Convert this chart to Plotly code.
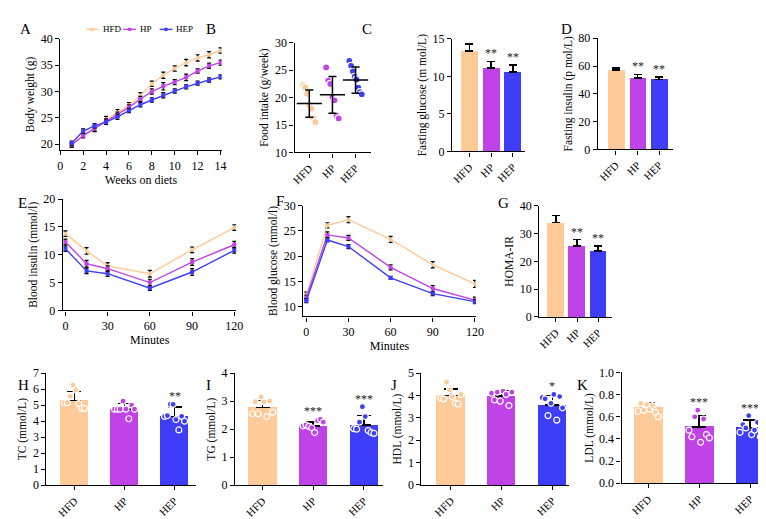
import plotly.graph_objects as go
import numpy as np

W, H = 766, 519
FONT = "Liberation Serif, Times New Roman, DejaVu Serif, serif"
GROUPS = ["HFD", "HP", "HEP"]
COLORS = {"HFD": "#FDCA98", "HP": "#C043E8", "HEP": "#3E3EF8"}

# ---------------- data ----------------
weeks = list(range(1, 15))
bw_hfd = [19.8, 21.8, 23.0, 24.7, 26.0, 27.4, 29.2, 31.5, 33.1, 34.4, 35.5, 36.4, 37.0, 37.8]
bw_hp = [19.9, 21.6, 23.0, 24.3, 25.6, 27.0, 28.6, 30.0, 31.0, 31.8, 32.7, 33.9, 34.9, 35.5]
bw_hep = [20.2, 22.5, 23.5, 24.2, 25.2, 26.4, 27.5, 28.4, 29.3, 30.1, 30.9, 31.6, 32.2, 32.8]
bw_hfd_err = [0.4, 0.5, 0.5, 0.6, 0.6, 0.5, 0.6, 0.5, 0.6, 0.5, 0.6, 0.6, 0.6, 0.5]
bw_hp_err = [0.4, 0.4, 0.6, 0.5, 0.5, 0.5, 0.5, 0.5, 0.7, 0.5, 0.6, 0.4, 0.5, 0.5]
bw_hep_err = [0.4, 0.4, 0.4, 0.4, 0.5, 0.4, 0.4, 0.4, 0.5, 0.4, 0.4, 0.4, 0.4, 0.4]

food_pts = {
    "HFD": [22.3, 21.9, 20.7, 18.6, 18.0, 16.2, 15.5],
    "HP": [25.5, 23.1, 22.5, 20.0, 19.5, 16.7, 16.2],
    "HEP": [26.7, 25.8, 24.8, 23.8, 23.3, 21.8, 21.0, 20.6],
}
food_mean = [18.9, 20.5, 23.2]
food_sd = [2.5, 3.35, 2.4]

glu_mean = [13.4, 11.1, 10.6]
glu_sd = [0.9, 0.9, 0.9]
ins_mean = [57.0, 51.5, 50.3]
ins_sd = [1.5, 2.5, 1.8]
homa_mean = [34.0, 25.5, 23.7]
homa_sd = [2.5, 2.3, 1.8]

minutes = [0, 15, 30, 60, 90, 120]
itt_hfd = [13.8, 10.7, 8.0, 6.6, 10.9, 14.9]
itt_hp = [12.3, 8.4, 7.5, 5.0, 8.7, 11.8]
itt_hep = [11.1, 7.1, 6.6, 4.0, 6.9, 10.8]
itt_hfd_err = [0.5, 0.6, 0.6, 0.6, 0.5, 0.5]
itt_hp_err = [0.5, 0.6, 0.5, 0.6, 0.6, 0.6]
itt_hep_err = [0.5, 0.5, 0.5, 0.4, 0.6, 0.5]

gtt_hfd = [12.3, 26.1, 27.2, 23.3, 18.3, 14.5]
gtt_hp = [11.8, 24.2, 23.6, 17.8, 13.6, 11.3]
gtt_hep = [11.2, 23.2, 21.9, 15.7, 12.6, 11.0]
gtt_hfd_err = [0.6, 0.5, 0.6, 0.6, 0.6, 0.7]
gtt_hp_err = [0.5, 0.6, 0.5, 0.5, 0.6, 0.6]
gtt_hep_err = [0.4, 0.4, 0.4, 0.3, 0.4, 0.4]

tc_pts = {"HFD": [5.15, 5.15, 5.55, 6.25, 5.95, 5.1, 4.8, 4.8],
          "HP": [4.75, 4.75, 4.75, 5.25, 4.75, 4.15, 5.0, 4.75],
          "HEP": [4.3, 4.35, 5.05, 5.05, 4.1, 3.45, 4.3, 4.0]}
tc_mean = [5.3, 4.75, 4.3]
tc_sd = [0.55, 0.35, 0.6]

tg_pts = {"HFD": [2.55, 2.98, 2.55, 3.15, 2.97, 2.45, 3.0, 2.6],
          "HP": [2.12, 2.15, 2.1, 2.05, 1.88, 2.3, 2.35, 2.25],
          "HEP": [2.02, 2.0, 2.25, 2.8, 2.45, 1.95, 1.88, 1.85]}
tg_mean = [2.78, 2.12, 2.15]
tg_sd = [0.24, 0.14, 0.33]

hdl_pts = {"HFD": [3.9, 3.85, 4.6, 4.25, 3.95, 3.65, 3.62, 4.05],
           "HP": [4.1, 3.8, 4.15, 3.75, 4.2, 4.05, 3.55, 4.15],
           "HEP": [3.9, 3.85, 3.1, 3.65, 4.05, 2.9, 3.95, 3.45]}
hdl_mean = [4.0, 3.97, 3.58]
hdl_sd = [0.3, 0.25, 0.42]

ldl_pts = {"HFD": [0.65, 0.72, 0.66, 0.71, 0.67, 0.70, 0.64, 0.60],
           "HP": [0.48, 0.42, 0.60, 0.66, 0.37, 0.58, 0.44, 0.41],
           "HEP": [0.46, 0.53, 0.50, 0.61, 0.44, 0.48, 0.55, 0.42]}
ldl_mean = [0.68, 0.51, 0.50]
ldl_sd = [0.05, 0.10, 0.07]

stars_c = ["", "**", "**"]
stars_d = ["", "**", "**"]
stars_g = ["", "**", "**"]
stars_h = ["", "", "**"]
stars_i = ["", "***", "***"]
stars_j = ["", "", "*"]
stars_k = ["", "***", "***"]

# ---------------- helpers ----------------
def xd(l, r):
    return [l / W, r / W]


def yd(top, bottom):
    return [1 - bottom / H, 1 - top / H]


fig = go.Figure()
layout = {}
annotations = []
shapes = []


def axis_style(**kw):
    d = dict(showline=True, linecolor="black", linewidth=1.3, ticks="outside",
             ticklen=4, tickwidth=1.3, tickcolor="black", showgrid=False,
             zeroline=False, tickfont=dict(family=FONT, size=12, color="black"))
    d.update(kw)
    return d


def add_axes(n, xdom, ydom, xrange, yrange, xkw=None, ykw=None, ytitle="", xtitle=""):
    xk = "xaxis" if n == 1 else f"xaxis{n}"
    yk = "yaxis" if n == 1 else f"yaxis{n}"
    xa = axis_style(domain=xdom, range=xrange, anchor=f"y{'' if n == 1 else n}")
    ya = axis_style(domain=ydom, range=yrange, anchor=f"x{'' if n == 1 else n}")
    xa["title"] = dict(text=xtitle, font=dict(family=FONT, size=12, color="black"), standoff=0)
    ya["title"] = dict(text=ytitle, font=dict(family=FONT, size=11.5, color="black"), standoff=3)
    if xkw:
        xa.update(xkw)
    if ykw:
        ya.update(ykw)
    layout[xk] = xa
    layout[yk] = ya
    return ("x" if n == 1 else f"x{n}"), ("y" if n == 1 else f"y{n}")


cat_x = dict(tickvals=[0, 1, 2], ticktext=GROUPS, tickangle=-45,
             tickfont=dict(family=FONT, size=11, color="black"))


def line_traces(xa, ya, xs, series, errs, msize=4):
    for g, vals, e in zip(GROUPS, series, errs):
        fig.add_trace(go.Scatter(
            x=xs, y=vals, mode="lines+markers", name=g, showlegend=False,
            line=dict(color=COLORS[g], width=1.4),
            marker=dict(color=COLORS[g], size=msize, symbol="circle" if g == "HFD" else "square"),
            error_y=dict(type="data", array=e, color="black", thickness=1.2, width=2),
            xaxis=xa, yaxis=ya))


def bar_trace(xa, ya, means, sds, width, capw):
    fig.add_trace(go.Bar(
        x=[0, 1, 2], y=means, width=width, showlegend=False,
        marker=dict(color=[COLORS[g] for g in GROUPS], line=dict(width=0)),
        error_y=dict(type="data", symmetric=False, array=sds, arrayminus=[0, 0, 0],
                     color="black", thickness=1.5, width=capw),
        xaxis=xa, yaxis=ya))


def dots_trace(xa, ya, pts, spread, size):
    for i, g in enumerate(GROUPS):
        v = pts[g]
        n = len(v)
        xs = list(i + np.linspace(-spread, spread, n))
        fig.add_trace(go.Scatter(
            x=xs, y=v, mode="markers", showlegend=False,
            marker=dict(color=COLORS[g], size=size, line=dict(color="white", width=1.2)),
            xaxis=xa, yaxis=ya))


def star_ann(xa, ya, stars, tops, size=12):
    for i, s in enumerate(stars):
        if s:
            annotations.append(dict(x=i, y=tops[i], xref=xa, yref=ya, text=s, showarrow=False,
                                    yanchor="bottom", yshift=-1,
                                    font=dict(family=FONT, size=size, color="#222222")))


def letter(txt, px, py):
    annotations.append(dict(x=px / W, y=1 - py / H, xref="paper", yref="paper", text=txt,
                            showarrow=False, xanchor="left", yanchor="top",
                            font=dict(family=FONT, size=15, color="black")))


# ---------------- Panel A ----------------
xa, ya = add_axes(1, xd(49, 213), yd(25, 141), [0, 14.1], [18.9, 40],
                  xkw=dict(tickvals=list(range(0, 15, 2))),
                  ykw=dict(tickvals=[20, 25, 30, 35, 40]),
                  ytitle="Body weight (g)", xtitle="Weeks on diets")
line_traces(xa, ya, weeks, [bw_hfd, bw_hp, bw_hep], [bw_hfd_err, bw_hp_err, bw_hep_err])

# legend of panel A (drawn as small shapes + text)
leg_x = [75, 113, 150]
for g, lx in zip(GROUPS, leg_x):
    shapes.append(dict(type="line", xref="paper", yref="paper",
                       x0=lx / W, x1=(lx + 13) / W, y0=1 - 15 / H, y1=1 - 15 / H,
                       line=dict(color=COLORS[g], width=1.4)))
    shapes.append(dict(type="circle", xref="paper", yref="paper",
                       x0=(lx + 4.5) / W, x1=(lx + 8.5) / W, y0=1 - 17 / H, y1=1 - 13 / H,
                       fillcolor=COLORS[g], line=dict(color=COLORS[g], width=0)))
    annotations.append(dict(x=(lx + 15) / W, y=1 - 15 / H, xref="paper", yref="paper",
                            text=g, showarrow=False, xanchor="left", yanchor="middle",
                            font=dict(family=FONT, size=9, color="black")))

# ---------------- Panel B ----------------
xa, ya = add_axes(2, xd(287, 365), yd(29, 143.5), [-0.64, 2.68], [10, 30],
                  xkw=cat_x, ykw=dict(tickvals=[10, 15, 20, 25, 30]),
                  ytitle="Food intake (g/week)")
dots_trace(xa, ya, food_pts, 0.27, 7)
fig.add_trace(go.Scatter(
    x=[0, 1, 2], y=food_mean, mode="markers", showlegend=False,
    marker=dict(symbol="line-ew", size=18, color="black", line=dict(width=1.5, color="black")),
    error_y=dict(type="data", array=food_sd, color="black", thickness=1.5, width=4),
    xaxis=xa, yaxis=ya))

# ---------------- Panel C ----------------
xa, ya = add_axes(3, xd(447, 521), yd(25, 142.5), [-0.8, 2.55], [0, 15],
                  xkw=cat_x, ykw=dict(tickvals=[0, 5, 10, 15]),
                  ytitle="Fasting glucose (m mol/L)")
bar_trace(xa, ya, glu_mean, glu_sd, 0.78, 4)
star_ann(xa, ya, stars_c, [m + s for m, s in zip(glu_mean, glu_sd)])

# ---------------- Panel D ----------------
xa, ya = add_axes(4, xd(595, 672), yd(24.3, 140.3), [-0.84, 2.66], [0, 80],
                  xkw=cat_x, ykw=dict(tickvals=[0, 20, 40, 60, 80]),
                  ytitle="Fasting insulin (p mol/L)")
bar_trace(xa, ya, ins_mean, ins_sd, 0.77, 4)
star_ann(xa, ya, stars_d, [m + s for m, s in zip(ins_mean, ins_sd)])

# ---------------- Panel E ----------------
xa, ya = add_axes(5, xd(51.7, 228), yd(192.3, 308.5), [-1.8, 121.5], [0, 20],
                  xkw=dict(tickvals=[0, 30, 60, 90, 120]),
                  ykw=dict(tickvals=[0, 5, 10, 15, 20]),
                  ytitle="Blood insulin (mmol/l)", xtitle="Minutes")
line_traces(xa, ya, minutes, [itt_hfd, itt_hp, itt_hep], [itt_hfd_err, itt_hp_err, itt_hep_err])

# ---------------- Panel F ----------------
xa, ya = add_axes(6, xd(296, 471), yd(199, 314.7), [-2.1, 120.5], [8.1, 30],
                  xkw=dict(tickvals=[0, 30, 60, 90, 120]),
                  ykw=dict(tickvals=[10, 15, 20, 25, 30]),
                  ytitle="Blood glucose (mmol/l)", xtitle="Minutes")
line_traces(xa, ya, minutes, [gtt_hfd, gtt_hp, gtt_hep], [gtt_hfd_err, gtt_hp_err, gtt_hep_err])

# ---------------- Panel G ----------------
xa, ya = add_axes(7, xd(535.7, 610), yd(199.3, 315.3), [-0.78, 2.67], [0, 40],
                  xkw=cat_x, ykw=dict(tickvals=[0, 10, 20, 30, 40]),
                  ytitle="HOMA-IR")
bar_trace(xa, ya, homa_mean, homa_sd, 0.78, 4)
star_ann(xa, ya, stars_g, [m + s for m, s in zip(homa_mean, homa_sd)])

# ---------------- Bottom row ----------------
bottom = [
    (8, 35, 187, 374, 491, [-0.56, 2.43], [0, 7], list(range(0, 8)), "TC (mmol/L)",
     tc_pts, tc_mean, tc_sd, stars_h, None),
    (9, 226.7, 377, 374, 491, [-0.54, 2.38], [0, 4], [0, 1, 2, 3, 4], "TG (mmol/L)",
     tg_pts, tg_mean, tg_sd, stars_i, None),
    (10, 416, 566, 374, 490.7, [-0.58, 2.33], [0, 5], [0, 1, 2, 3, 4, 5], "HDL (mmol/L)",
     hdl_pts, hdl_mean, hdl_sd, stars_j, None),
    (11, 619.3, 766, 373.3, 489, [-0.52, 2.31], [0, 1.0], [0, 0.2, 0.4, 0.6, 0.8, 1.0], "LDL (mmol/L)",
     ldl_pts, ldl_mean, ldl_sd, stars_k, ".1f"),
]
for n, l, r, t, b, xr, yr, tv, title, pts, means, sds, stars, fmt in bottom:
    ykw = dict(tickvals=tv)
    if fmt:
        ykw["tickformat"] = fmt
    xa, ya = add_axes(n, xd(l, r), yd(t, b), xr, yr, xkw=cat_x, ykw=ykw, ytitle=title)
    bar_trace(xa, ya, means, sds, 0.56, 7)
    dots_trace(xa, ya, pts, 0.2, 6)
    tops = [max(max(pts[g]), m + s) for g, m, s in zip(GROUPS, means, sds)]
    star_ann(xa, ya, stars, tops, size=12)

# ---------------- letters ----------------
letter("A", 6, 4)
letter("B", 195, 4)
letter("C", 354, 4)
letter("D", 556, 4)
letter("E", 4, 186)
letter("F", 266, 184)
letter("G", 492, 186)
letter("H", 4, 376)
letter("I", 195, 376)
letter("J", 383, 376)
letter("K", 572, 376)

layout.update(dict(
    width=W, height=H, margin=dict(l=0, r=0, t=0, b=0),
    paper_bgcolor="white", plot_bgcolor="white",
    font=dict(family=FONT, size=11, color="black"),
    showlegend=False,
    annotations=annotations,
    shapes=shapes,
    bargap=0,
))
fig.update_layout(**layout)
fig.write_html("out.html")
